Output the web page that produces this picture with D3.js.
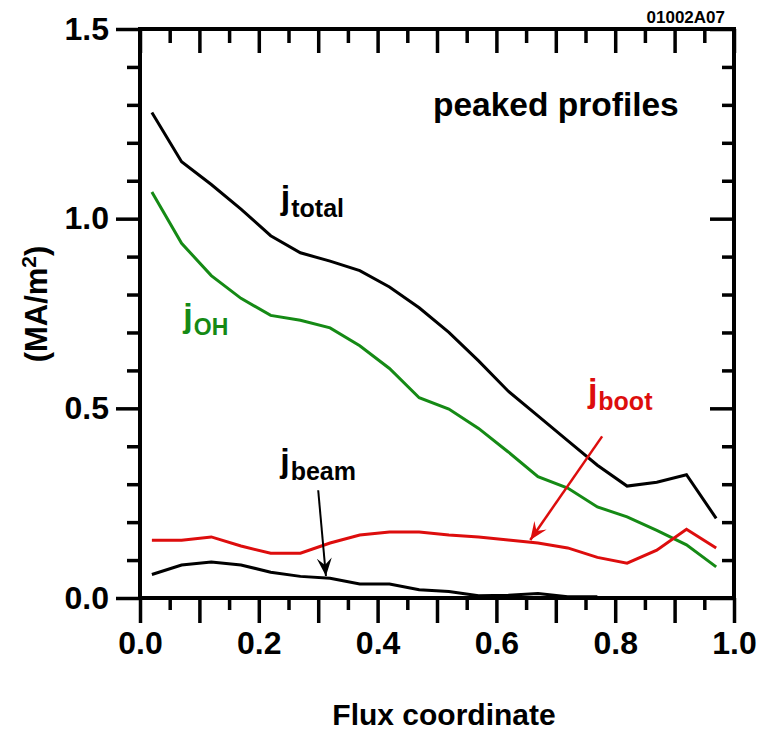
<!DOCTYPE html>
<html>
<head>
<meta charset="utf-8">
<title>peaked profiles</title>
<script src="https://d3js.org/d3.v7.min.js"></script>
<style>
    body{ margin:0; background:#fff; }
    svg text{ font-family:"Liberation Sans", Arial, Helvetica, sans-serif; font-weight:bold; }
</style>
</head>
<body>
<div id="chart"></div>
<script>
// flux coordinate grid (every 0.05 from 0.02)
var flux = [0.02,0.07,0.12,0.17,0.22,0.27,0.32,0.37,0.42,0.47,0.52,0.57,0.62,0.67,0.72,0.77,0.82,0.87,0.92,0.97]
var jTotal = [1.28,1.15,1.09,1.025,0.955,0.91,0.888,0.863,0.82,0.765,0.70,0.625,0.545,0.48,0.415,0.35,0.295,0.305,0.325,0.21]
var jOH    = [1.07,0.935,0.85,0.79,0.745,0.732,0.712,0.665,0.605,0.528,0.498,0.447,0.385,0.32,0.29,0.24,0.214,0.178,0.14,0.082]
var jBoot  = [0.152,0.152,0.161,0.137,0.118,0.118,0.145,0.166,0.174,0.174,0.166,0.161,0.153,0.145,0.132,0.107,0.092,0.126,0.181,0.132]
var jBeam  = [0.062,0.087,0.095,0.087,0.068,0.057,0.052,0.037,0.037,0.022,0.017,0.006,0.007,0.012,0.003,0.003]

var xMajor = [0,0.1,0.2,0.3,0.4,0.5,0.6,0.7,0.8,0.9,1.0]
var xLabels = [0,0.2,0.4,0.6,0.8,1.0]
var yMajor = [0,0.5,1.0,1.5]

var w = 769
var h = 733
var margin = {top:29, right:35, bottom:135, left:140}

var svg = d3.select("#chart").append("svg")
    .attr("width",w)
    .attr("height",h)

var xScale = d3.scaleLinear().domain([0,1]).range([margin.left, w-margin.right])
var yScale = d3.scaleLinear().domain([0,1.5]).range([h-margin.bottom, margin.top])

var xMinor = d3.range(0.05,1.0,0.1)
var yMinor = d3.range(0,1.5,0.1).filter(function(v){ return Math.abs(v*2-Math.round(v*2))>0.01 })

function styleAxis(g){
    g.select(".domain").remove()
    g.selectAll(".tick line").attr("stroke","#000").attr("stroke-width",3.5)
    g.selectAll(".tick text").attr("fill","#000").style("font-size","32px")
}

// bottom axis
svg.append("g").attr("transform","translate(0,"+yScale(0)+")")
    .call(d3.axisBottom(xScale).tickValues(xMajor).tickSize(25).tickPadding(8)
        .tickFormat(function(d){ return xLabels.some(function(v){return Math.abs(v-d)<1e-6}) ? d3.format(".1f")(d) : "" }))
    .call(styleAxis)
svg.append("g").attr("transform","translate(0,"+yScale(0)+")")
    .call(d3.axisBottom(xScale).tickValues(xMinor).tickSize(12).tickFormat(""))
    .call(styleAxis)
// top axis (ticks inside)
svg.append("g").attr("transform","translate(0,"+yScale(1.5)+")")
    .call(d3.axisTop(xScale).tickValues(xMajor).tickSize(-24).tickFormat(""))
    .call(styleAxis)
svg.append("g").attr("transform","translate(0,"+yScale(1.5)+")")
    .call(d3.axisTop(xScale).tickValues(xMinor).tickSize(-14).tickFormat(""))
    .call(styleAxis)
// left axis
svg.append("g").attr("transform","translate("+xScale(0)+",0)")
    .call(d3.axisLeft(yScale).tickValues(yMajor).tickSize(24).tickPadding(7).tickFormat(d3.format(".1f")))
    .call(styleAxis)
svg.append("g").attr("transform","translate("+xScale(0)+",0)")
    .call(d3.axisLeft(yScale).tickValues(yMinor).tickSize(13).tickFormat(""))
    .call(styleAxis)
// right axis (ticks inside)
svg.append("g").attr("transform","translate("+xScale(1)+",0)")
    .call(d3.axisRight(yScale).tickValues(yMajor).tickSize(-24).tickFormat(""))
    .call(styleAxis)
svg.append("g").attr("transform","translate("+xScale(1)+",0)")
    .call(d3.axisRight(yScale).tickValues(yMinor).tickSize(-12).tickFormat(""))
    .call(styleAxis)

// frame
svg.append("rect")
    .attr("x",xScale(0)).attr("y",yScale(1.5))
    .attr("width",xScale(1)-xScale(0)).attr("height",yScale(0)-yScale(1.5))
    .attr("fill","none").attr("stroke","#000").attr("stroke-width",4)

// curves
var line = d3.line()
    .x(function(d){ return xScale(d[0]) })
    .y(function(d){ return yScale(d[1]) })

var series = [
    {vals:jTotal, color:"#000"},
    {vals:jOH, color:"#158a15"},
    {vals:jBoot, color:"#dd0d0d"},
    {vals:jBeam, color:"#000"}
]
series.forEach(function(s){
    svg.append("path")
        .datum(s.vals.map(function(v,i){ return [flux[i],v] }))
        .attr("d",line)
        .attr("fill","none")
        .attr("stroke",s.color)
        .attr("stroke-width",3)
        .attr("stroke-linejoin","miter")
})

// arrows
var defs = svg.append("defs")
function marker(id,color){
    defs.append("marker").attr("id",id)
        .attr("viewBox","-18 -9 20 18").attr("refX",0).attr("refY",0)
        .attr("markerWidth",20).attr("markerHeight",18)
        .attr("markerUnits","userSpaceOnUse").attr("orient","auto")
        .append("path").attr("d","M0,0 L-18,-7.5 L-11,0 L-18,7.5 Z").attr("fill",color)
}
marker("arrBlack","#000")
marker("arrRed","#dd0d0d")

var arrows = [
    {from:[0.300,0.284], to:[0.313,0.058], color:"#000", m:"arrBlack", sw:2},
    {from:[0.778,0.426], to:[0.657,0.153], color:"#dd0d0d", m:"arrRed", sw:2.5}
]
arrows.forEach(function(a){
    svg.append("line")
        .attr("x1",xScale(a.from[0])).attr("y1",yScale(a.from[1]))
        .attr("x2",xScale(a.to[0])).attr("y2",yScale(a.to[1]))
        .attr("stroke",a.color).attr("stroke-width",a.sw)
        .attr("marker-end","url(#"+a.m+")")
})

// curve labels
var labels = [
    {sub:"total", x:0.237, y:1.025, color:"#000"},
    {sub:"OH", x:0.073, y:0.715, color:"#158a15"},
    {sub:"beam", x:0.236, y:0.333, color:"#000"},
    {sub:"boot", x:0.754, y:0.518, color:"#dd0d0d"}
]
labels.forEach(function(l){
    var t = svg.append("text")
        .attr("x",xScale(l.x)).attr("y",yScale(l.y))
        .attr("fill",l.color)
    t.append("tspan").text("j").style("font-size","34px")
    t.append("tspan").text(l.sub).attr("dy",8).attr("dx",1)
        .style("font-size", l.sub=="OH" ? "23px" : "25px")
})

svg.append("text").text("peaked profiles")
    .attr("x",433).attr("y",116)
    .style("font-size","33.5px")

svg.append("text").text("01002A07")
    .attr("x",725).attr("y",23).attr("text-anchor","end")
    .style("font-size","17px")

// axis titles
svg.append("text").text("Flux coordinate")
    .attr("x",444).attr("y",725)
    .attr("text-anchor","middle")
    .style("font-size","30px")

var yt = svg.append("text")
    .attr("transform","translate(47,"+304+") rotate(-90)")
    .attr("text-anchor","middle")
    .style("font-size","31px")
yt.append("tspan").text("(MA/m")
yt.append("tspan").text("2").attr("dy",-11).style("font-size","21px")
yt.append("tspan").text(")").attr("dy",11)
</script>
</body>
</html>
